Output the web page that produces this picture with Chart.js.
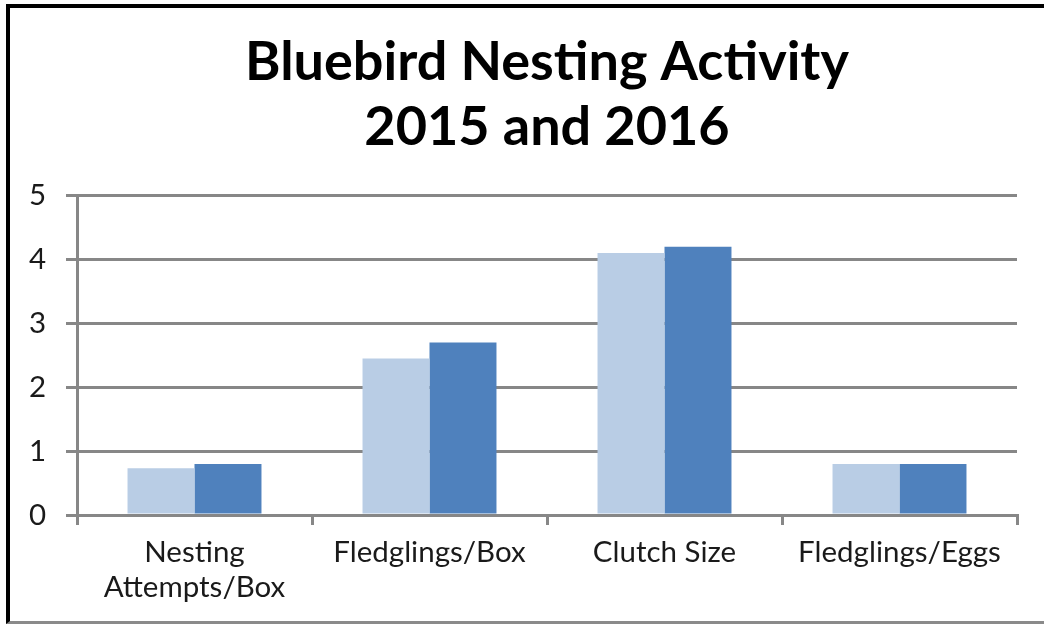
<!DOCTYPE html>
<html>
<head>
<meta charset="utf-8">
<script src="https://cdn.jsdelivr.net/npm/chart.js@4.4.1/dist/chart.umd.min.js"></script>
<style>
  html, body { margin: 0; padding: 0; background: #fff; }
  #wrap { position: relative; width: 1044px; height: 628px; overflow: hidden; }
  #frame { position: absolute; left: 6px; top: 4px; width: 1044px; height: 620px;
           border-left: 4px solid #000; border-top: 4px solid #000; border-bottom: 3px solid #8a8a8a;
           box-sizing: border-box; pointer-events: none; }
  canvas { position: absolute; left: 0; top: 0; }
</style>
</head>
<body>
<div id="wrap">
  <canvas id="c" width="1044" height="628"></canvas>
  <div id="frame"></div>
</div>
<script>
const categories = [["Nesting", "Attempts/Box"], "Fledglings/Box", "Clutch Size", "Fledglings/Eggs"];
const series2015 = [0.73, 2.45, 4.1, 0.8];
const series2016 = [0.8, 2.7, 4.2, 0.8];
const titleLines = ["Bluebird Nesting Activity", "2015 and 2016"];
const yMin = 0, yMax = 5, yStep = 1;

const FONT = "Lato, 'Open Sans', sans-serif";
const GRID = "#878787";

new Chart(document.getElementById("c"), {
  type: "bar",
  data: {
    labels: categories,
    datasets: [
      { label: "2015", data: series2015, backgroundColor: "#B9CDE5", borderColor: "#B9CDE5", borderWidth: 0,
        categoryPercentage: 0.57, barPercentage: 1.0 },
      { label: "2016", data: series2016, backgroundColor: "#4F81BD", borderColor: "#4F81BD", borderWidth: 0,
        categoryPercentage: 0.57, barPercentage: 1.0 }
    ]
  },
  options: {
    responsive: false,
    animation: false,
    layout: { padding: { left: 20, right: 27, top: 0, bottom: 0 } },
    plugins: {
      legend: { display: false },
      tooltip: { enabled: false },
      title: {
        display: true,
        fullSize: false,
        text: titleLines,
        color: "#000",
        font: { family: FONT, size: 54, weight: "bold", lineHeight: 1.2 },
        padding: { top: 30, bottom: 36 }
      }
    },
    scales: {
      x: {
        offset: true,
        grid: { offset: true, drawOnChartArea: false, drawTicks: true, tickLength: 10, color: GRID, lineWidth: 3 },
        border: { display: true, color: GRID, width: 3 },
        ticks: { color: "#1a1a1a", font: { family: FONT, size: 29.5, lineHeight: 1.19 }, padding: 10, maxRotation: 0, autoSkip: false },
        afterFit: s => { s.height = 113; }
      },
      y: {
        min: yMin, max: yMax,
        grid: { color: GRID, lineWidth: 3, tickLength: 11, drawTicks: true },
        border: { display: true, color: GRID, width: 3 },
        ticks: { stepSize: yStep, color: "#1a1a1a", font: { family: FONT, size: 29.5 }, padding: 20 },
        afterFit: s => { s.width = 57; }
      }
    }
  }
});
</script>
</body>
</html>
